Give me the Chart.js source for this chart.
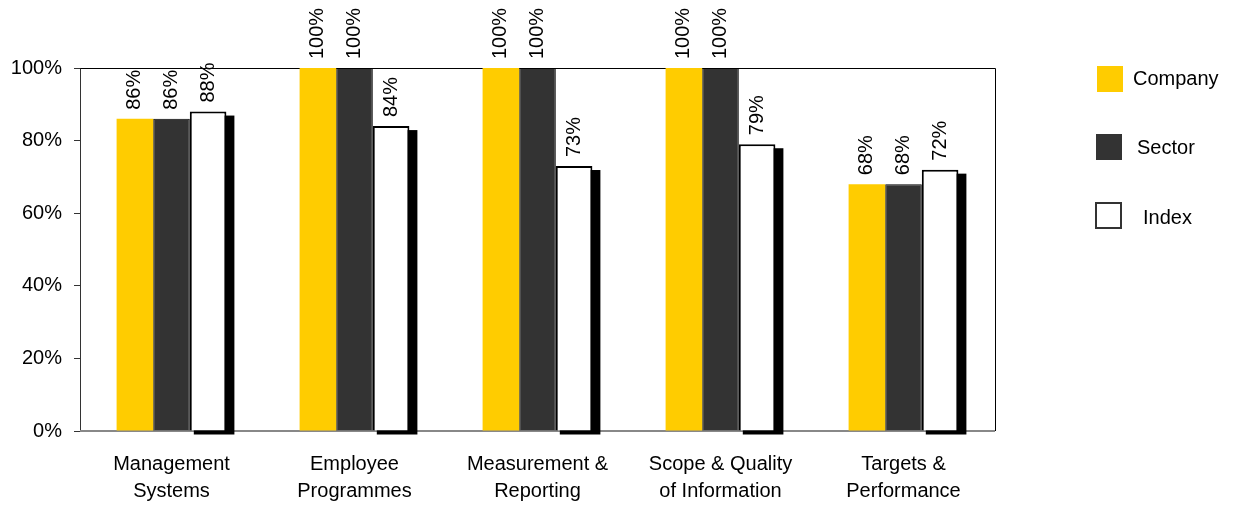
<!DOCTYPE html>
<html>
<head>
<meta charset="utf-8">
<script src="https://cdn.jsdelivr.net/npm/chart.js@4/dist/chart.umd.min.js"></script>
<style>
  html, body { margin: 0; padding: 0; background: #fff; }
  #wrap { width: 1233px; height: 505px; }
</style>
</head>
<body>
<div id="wrap"><canvas id="chart" width="1233" height="505"></canvas></div>
<script>
var categories = [['Management', 'Systems'], ['Employee', 'Programmes'], ['Measurement &', 'Reporting'], ['Scope & Quality', 'of Information'], ['Targets &', 'Performance']];
var company = [86, 100, 100, 100, 68];
var sector = [86, 100, 100, 100, 68];
var index = [88, 84, 73, 79, 72];
var yTicks = [0, 20, 40, 60, 80, 100];

var FONT = '"Liberation Sans", Arial, sans-serif';

// frame: black box round the plot, grey base line
var framePlugin = {
    id: 'frame',
    beforeDatasetsDraw: function (chart) {
        var a = chart.chartArea, ctx = chart.ctx;
        ctx.save();
        ctx.strokeStyle = '#000';
        ctx.lineWidth = 1;
        ctx.beginPath();
        ctx.moveTo(a.left + 0.5, a.top + 0.5);
        ctx.lineTo(a.right + 0.5, a.top + 0.5);
        ctx.lineTo(a.right + 0.5, a.bottom);
        ctx.stroke();
        ctx.strokeStyle = '#888';
        ctx.lineWidth = 2;
        ctx.beginPath();
        ctx.moveTo(a.left, a.bottom);
        ctx.lineTo(a.right, a.bottom);
        ctx.stroke();
        ctx.restore();
    }
};

// black drop shadow behind the Index bars
var shadowPlugin = {
    id: 'shadow',
    beforeDatasetDraw: function (chart, args) {
        if (args.index !== 2) return;
        var ctx = chart.ctx;
        ctx.save();
        ctx.fillStyle = '#000';
        args.meta.data.forEach(function (el) {
            var l = el.x - el.width / 2 + 4;
            var r = el.x + el.width / 2 + 8;
            ctx.fillRect(l, el.y + 4, r - l, el.base + 4 - (el.y + 4));
        });
        ctx.restore();
    }
};

// rotated value labels above each bar
var labelPlugin = {
    id: 'vlabels',
    afterDatasetsDraw: function (chart) {
        var ctx = chart.ctx;
        ctx.save();
        ctx.font = '20px ' + FONT;
        ctx.fillStyle = '#000';
        ctx.textAlign = 'left';
        ctx.textBaseline = 'middle';
        chart.data.datasets.forEach(function (ds, i) {
            chart.getDatasetMeta(i).data.forEach(function (el, j) {
                ctx.save();
                ctx.translate(el.x, el.y - 9);
                ctx.rotate(-Math.PI / 2);
                ctx.fillText(ds.data[j] + '%', 0, 0);
                ctx.restore();
            });
        });
        ctx.restore();
    }
};

// legend on the right
var legendPlugin = {
    id: 'sideLegend',
    afterDraw: function (chart) {
        var ctx = chart.ctx;
        var boxes = [
            { x: 1097, y: 66, s: 26, tx: 1133, ty: 79 },
            { x: 1096, y: 134, s: 26, tx: 1137, ty: 148 },
            { x: 1096, y: 203, s: 25, tx: 1143, ty: 218 }
        ];
        ctx.save();
        ctx.font = '20px ' + FONT;
        ctx.textAlign = 'left';
        ctx.textBaseline = 'middle';
        chart.data.datasets.forEach(function (ds, i) {
            var b = boxes[i];
            ctx.fillStyle = ds.backgroundColor;
            ctx.fillRect(b.x, b.y, b.s, b.s);
            if (i === 2) {
                ctx.strokeStyle = '#333';
                ctx.lineWidth = 2;
                ctx.strokeRect(b.x, b.y, b.s, b.s);
            }
            ctx.fillStyle = '#000';
            ctx.fillText(ds.label, b.tx, b.ty);
        });
        ctx.restore();
    }
};

var ctx = document.getElementById('chart').getContext('2d');
var myChart = new Chart(ctx, {
    type: 'bar',
    data: {
        labels: categories,
        datasets: [{
            label: 'Company',
            data: company,
            backgroundColor: '#FFCC00',
            borderWidth: 0
        }, {
            label: 'Sector',
            data: sector,
            backgroundColor: '#333333',
            borderColor: '#000000',
            borderWidth: 1
        }, {
            label: 'Index',
            data: index,
            backgroundColor: '#FFFFFF',
            borderColor: '#000000',
            borderWidth: 2
        }]
    },
    options: {
        responsive: false,
        animation: false,
        layout: { padding: { top: 68, right: 238, left: 0, bottom: 0 } },
        datasets: { bar: { categoryPercentage: 0.6, barPercentage: 1 } },
        plugins: {
            legend: { display: false },
            tooltip: { enabled: false }
        },
        scales: {
            x: {
                grid: { display: false },
                border: { display: false },
                ticks: {
                    color: '#000',
                    font: { family: FONT, size: 20, lineHeight: 1.35 },
                    padding: 12,
                    maxRotation: 0,
                    autoSkip: false
                },
                afterFit: function (scale) { scale.height = 74; }
            },
            y: {
                min: 0,
                max: 100,
                afterBuildTicks: function (scale) {
                    scale.ticks = yTicks.map(function (v) { return { value: v }; });
                },
                grid: { drawOnChartArea: false, tickLength: 6, color: '#333' },
                border: { display: true, color: '#333', width: 1 },
                ticks: {
                    color: '#000',
                    font: { family: FONT, size: 20 },
                    padding: 12,
                    callback: function (v) { return v + '%'; }
                },
                afterFit: function (scale) { scale.width = 80; }
            }
        }
    },
    plugins: [framePlugin, shadowPlugin, labelPlugin, legendPlugin]
});
</script>
</body>
</html>
